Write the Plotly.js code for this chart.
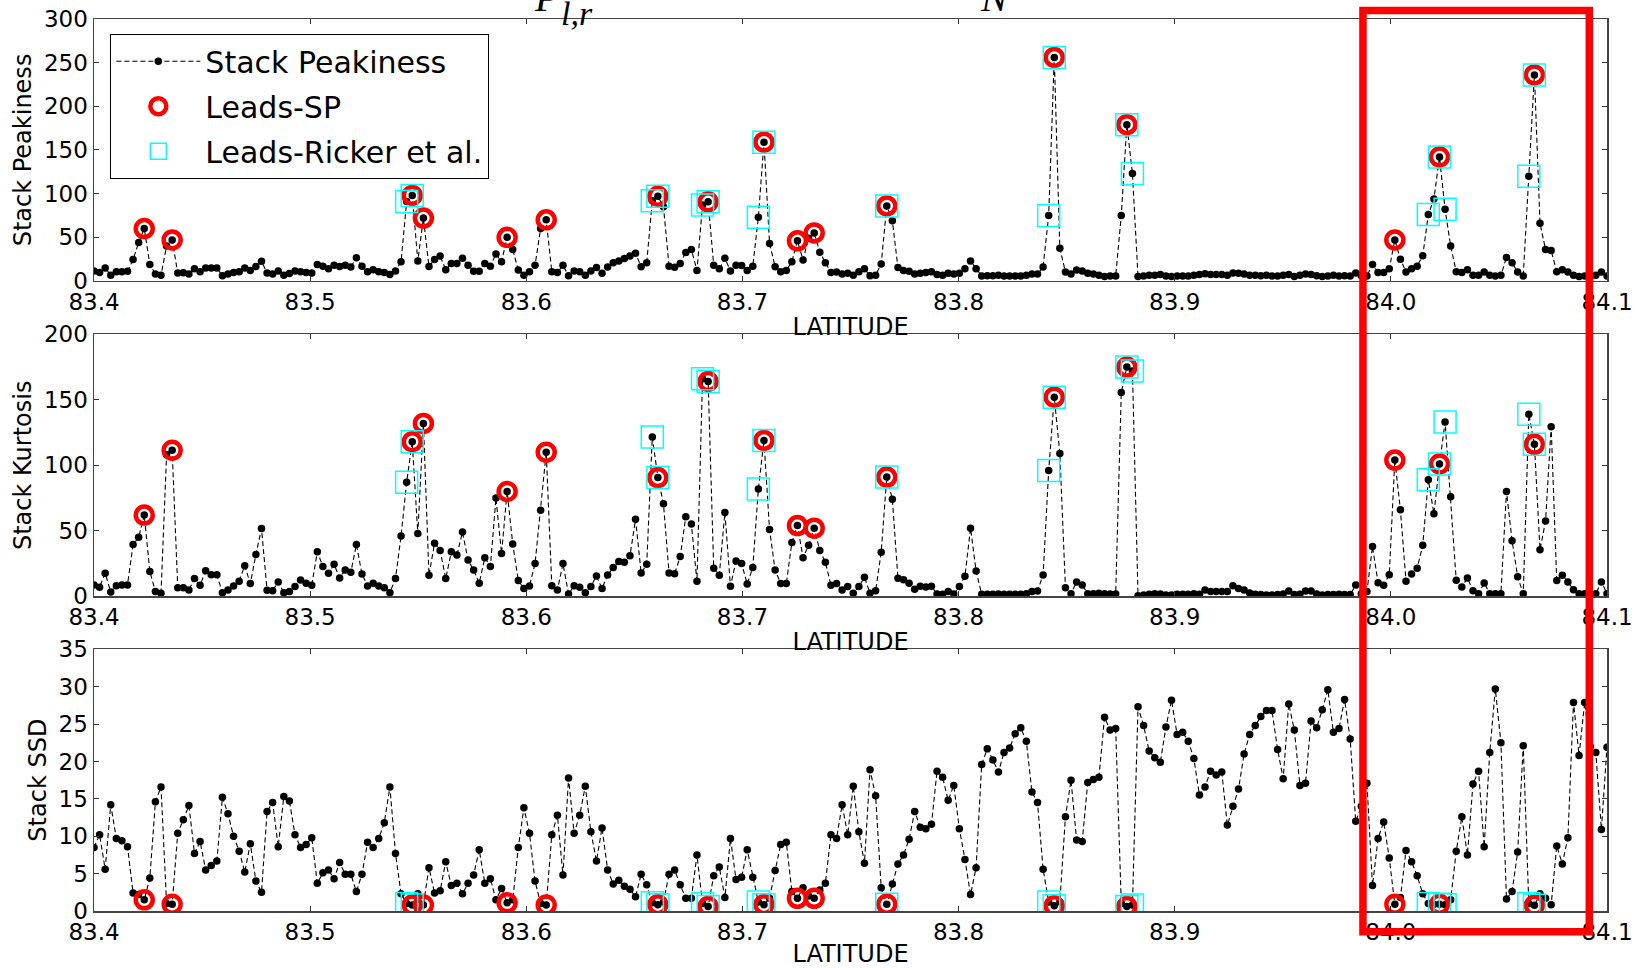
<!DOCTYPE html>
<html>
<head>
<meta charset="utf-8">
<script src="https://cdn.plot.ly/plotly-3.0.1.min.js"></script>
<style>html,body{margin:0;padding:0;background:#fff}#chart{width:1641px;height:968px}</style>
</head>
<body>
<div id="chart"></div>
<script>
// ---- sampling grid (along-track latitude) ----
const LAT_START = 83.4;
const LAT_STEP = 0.002583;

// ---- series values (one value per sample) ----
const stackPeakiness = [
 11.5, 9.6, 15, 6.5, 10.5, 10.5, 11, 24.5, 44, 60,
 19, 8, 6.5, 40, 47, 9, 9.5, 8, 14, 10.7,
 15, 15, 15, 6, 8, 9.6, 10.7, 15, 12, 16.5,
 22.5, 9, 8, 11.5, 6.5, 8.5, 11.5, 10.7, 9.6, 9,
 19, 17, 14, 18, 16.5, 18, 16, 26.5, 17, 10.7,
 13, 10.7, 9.6, 7.3, 11.5, 22, 91, 98, 23, 72,
 16.5, 24.5, 28.5, 13, 20, 20, 26, 18, 11, 11,
 20, 17, 31, 22, 50, 36, 12.6, 6.5, 10.7, 18,
 60, 70, 10.7, 9.6, 18, 6.1, 11.5, 10.7, 6.5, 11.5,
 15.3, 8.8, 16, 21, 23, 25.6, 28.7, 31.7, 16.4, 21,
 92, 97, 85, 17, 15.7, 20, 32.5, 36, 12, 87,
 90.6, 18, 14, 26, 11.5, 18, 17.6, 12, 17, 73,
 159, 43, 16.4, 10.7, 12, 22, 46, 24, 49, 55,
 33, 21, 9.6, 10.3, 8, 8.8, 6.5, 10.7, 14, 6.1,
 6.5, 19.5, 86, 69, 15.3, 12, 11, 8, 8.8, 9.6,
 10.7, 7.3, 6.5, 8.8, 8, 8.8, 14, 23, 14, 5.7,
 6, 6, 6.5, 5.7, 5.7, 5.7, 5.7, 6.5, 8, 8,
 16, 75, 256, 37.5, 10.3, 8, 12.6, 11.5, 8.8, 8,
 6.5, 5, 5.7, 5.7, 75, 179, 123, 5, 5.7, 6.5,
 6.5, 7.3, 5.7, 5, 5.7, 5.7, 5.7, 6.5, 7.3, 8.4,
 7.3, 7.3, 7.3, 6.5, 9.2, 8.8, 8, 6.5, 6.5, 6.1,
 6.5, 5.7, 5.7, 6.5, 7.3, 5, 6.5, 8, 7.3, 6.1,
 5, 5.7, 6.5, 5.7, 6.1, 5.7, 9, 6, 5.7, 19,
 9.6, 9.6, 14, 47, 25, 10.3, 14, 17, 29, 76,
 94, 142, 82, 40, 10.7, 9.6, 13, 6.5, 6.5, 10.3,
 6.5, 5.7, 6.5, 27, 21, 10.3, 5.7, 120, 236, 66,
 36, 35, 10.7, 13, 10.3, 6.5, 5, 5.7, 5, 6.5,
 10.3, 5.7
];

const stackKurtosis = [
 8.7, 7, 17.6, 3.3, 8, 8.7, 8.7, 39.5, 45, 62,
 19, 3.6, 2.3, 108, 111.5, 6.6, 6.6, 4.8, 13.5, 8.4,
 19.6, 16.5, 16.5, 2.8, 4.8, 7.9, 11.5, 23.4, 9.7, 32,
 51.7, 4.6, 4.3, 11, 2.8, 3.6, 7.4, 12.5, 10, 8.4,
 34, 22.7, 17.6, 24.4, 14, 20, 18.3, 39.5, 17, 7.9,
 10, 7.9, 6.6, 2.8, 13.5, 46, 87, 118, 48, 132,
 16, 40.5, 35, 13.5, 34, 31.5, 49, 27.7, 20, 10,
 29.5, 22.7, 75, 32.6, 80, 40, 12, 6, 7.9, 25,
 65.7, 110, 8, 4.8, 25, 1.8, 8, 6.9, 2.8, 7.4,
 15.5, 5.9, 16.3, 21.9, 26.5, 26, 31, 58.8, 17.8, 24.4,
 121.6, 90.6, 70.7, 17.8, 17.3, 30.3, 60.8, 55.2, 11.5, 166,
 164, 21.4, 16, 64, 7.6, 27, 25, 9.4, 22, 82,
 119, 51, 20, 9.7, 9.7, 41, 54, 29.5, 39, 52,
 35, 26, 8.4, 9.7, 4.8, 7.4, 2.3, 7.4, 14.5, 2.3,
 4.3, 33.6, 91, 74, 13.7, 12.7, 10, 5.3, 7.6, 7.1,
 7.6, 1.8, 1.5, 3.6, 1.8, 7.4, 15.3, 52, 19.3, 1.5,
 1.5, 1.5, 1.8, 1.5, 1.5, 1.5, 1.5, 2, 3.6, 4,
 16.3, 96, 152, 109, 6.6, 2, 11, 8.7, 2, 2,
 2.3, 2, 1.8, 1.8, 155.5, 175, 172, 0.5, 1, 1.5,
 2, 1.8, 1, 1, 1.5, 1.5, 1.5, 2, 1.5, 4.8,
 3.6, 3.6, 3.6, 3.6, 8, 6, 4.8, 2.5, 1.5, 1.3,
 1, 1, 1.3, 1.8, 4, 1.3, 1.5, 4, 4, 1.8,
 1, 1.3, 1.3, 1.5, 1.3, 1.3, 8.7, 2, 3.6, 38,
 10.4, 8.4, 16.5, 104, 66, 11.5, 17, 21.4, 39, 89,
 63, 101, 133, 76, 12.2, 7.1, 14, 4.3, 2, 10.2,
 2, 2, 2, 80, 42.5, 15, 2, 139, 116, 35.6,
 57.5, 129.5, 12, 16, 11, 5, 2, 2, 1.5, 2,
 11, 2
];

const stackSSD = [
 8.5, 10.2, 5.6, 14.2, 9.7, 9.4, 8.6, 2.4, 2.2, 1.5,
 4.4, 14.6, 16.6, 1.0, 0.9, 10.4, 12.2, 14.1, 7.7, 9.3,
 5.5, 6.1, 6.7, 15.2, 13, 10, 8, 5.2, 9, 4,
 2.5, 13.3, 14.5, 8.6, 15.3, 14.7, 10.2, 8.5, 8.9, 9.8,
 3.7, 5.1, 5.5, 4.3, 6.5, 4.9, 4.9, 2.6, 4.9, 9.2,
 8.5, 9.7, 11.8, 16.6, 7.7, 2.3, 1.0, 0.8, 2.3, 0.8,
 5.8, 2.4, 2.7, 6.6, 3.4, 3.7, 2.3, 3.7, 4.8, 8.2,
 3.7, 4.3, 1.5, 3.0, 1.1, 1.5, 8.5, 13.8, 10.4, 4.0,
 1.0, 0.8, 10.2, 12.8, 4.8, 17.8, 10.4, 12.8, 16.7, 10.6,
 6.7, 11.1, 5.5, 3.6, 4.1, 3.3, 2.9, 1.9, 4.9, 3.5,
 1.1, 0.85, 1.2, 4.9, 5.5, 3.5, 1.7, 1.7, 7.5, 1.0,
 0.6, 4.7, 5.9, 1.8, 9.7, 4.2, 4.5, 8.2, 4.5, 1.2,
 0.85, 1.7, 5.4, 8.9, 9.2, 2.6, 1.7, 3.1, 2.0, 1.7,
 2.8, 3.7, 10.2, 9.7, 14.2, 10.2, 16.7, 10.6, 6.4, 18.9,
 15.4, 3.1, 0.9, 3.6, 6.3, 7.5, 9.6, 13.3, 11.2, 11,
 11.6, 18.7, 17.9, 14.8, 16.8, 11, 6.9, 2.2, 5.8, 19.6,
 21.7, 20.2, 18.6, 21.2, 21.8, 23.7, 24.5, 22.7, 15.9, 14.5,
 5.6, 1.2, 0.7, 1.2, 12.6, 17.5, 9.5, 9.3, 17.2, 17.6,
 17.9, 25.9, 24.2, 24.4, 1.0, 0.6, 0.8, 27.3, 24.8, 21.4,
 20.5, 19.9, 24.6, 28.2, 23.6, 23.9, 22.7, 20.4, 15.5, 16.6,
 18.7, 18.2, 18.6, 11.5, 14, 16.3, 21, 23.6, 24.8, 26,
 26.8, 26.8, 21.6, 17.7, 27.7, 24.2, 16.8, 17.1, 25.4, 24.5,
 26.9, 29.6, 23.9, 24.4, 28.3, 23, 12, 14, 17.1, 3.4,
 9.7, 11.9, 7.1, 0.9, 1.8, 8.1, 6.6, 4.7, 2.3, 1.0,
 0.9, 0.9, 0.85, 1.5, 8, 12.6, 7.5, 17, 18.7, 8.6,
 21.2, 29.7, 22.5, 1.6, 2.6, 7.9, 22.1, 1.0, 0.76, 2.3,
 1.7, 0.85, 8.7, 6.3, 9.8, 27.9, 20.8, 27.9, 22, 21.2,
 10.9, 21.9
];

// ---- lead detections (sample indices) ----
const leadsSP = [9, 14, 57, 59, 74, 81, 101, 110, 120, 126, 129, 142, 172, 185, 233, 241, 258];
const leadsRicker = [56, 57, 100, 101, 109, 110, 119, 120, 142, 171, 172, 185, 186, 239, 241, 242, 257, 258];

// ---- axis labels / ticks ----
const xTickVals = [83.4, 83.5, 83.6, 83.7, 83.8, 83.9, 84.0, 84.1];
const xTickText = ['83.4', '83.5', '83.6', '83.7', '83.8', '83.9', '84.0', '84.1'];
const panelTitles = ['Stack Peakiness', 'Stack Kurtosis', 'Stack SSD'];
const panelRanges = [[0, 300], [0, 200], [0, 35]];
const panelDticks = [50, 50, 5];

const latitude = stackPeakiness.map((_, i) => LAT_START + i * LAT_STEP);
const series = [stackPeakiness, stackKurtosis, stackSSD];

const FONT = 'DejaVu Sans';
const traces = [];
series.forEach((vals, p) => {
  const sfx = p === 0 ? '' : String(p + 1);
  traces.push({
    x: latitude, y: vals, xaxis: 'x' + sfx, yaxis: 'y' + sfx,
    type: 'scatter', mode: 'lines+markers', name: 'Stack Peakiness',
    legendgroup: 'a', showlegend: p === 0,
    line: {color: '#000', width: 1.1, dash: '5px,3px'},
    marker: {color: '#000', size: 7.5}
  });
  traces.push({
    x: leadsSP.map(i => latitude[i]), y: leadsSP.map(i => vals[i]),
    xaxis: 'x' + sfx, yaxis: 'y' + sfx,
    type: 'scatter', mode: 'markers', name: 'Leads-SP',
    legendgroup: 'b', showlegend: p === 0,
    marker: {symbol: 'circle-open', color: '#ff0000', size: 17, line: {color: '#ff0000', width: 4.5}}
  });
  traces.push({
    x: leadsRicker.map(i => latitude[i]), y: leadsRicker.map(i => vals[i]),
    xaxis: 'x' + sfx, yaxis: 'y' + sfx,
    type: 'scatter', mode: 'markers', name: 'Leads-Ricker et al.',
    legendgroup: 'c', showlegend: p === 0,
    marker: {symbol: 'square-open', color: '#00ffff', size: 22, line: {color: '#00ffff', width: 1.5}}
  });
});

const domains = [[0.7063, 1.0], [0.3528, 0.6465], [0.0, 0.2934]];
const layout = {
  width: 1641, height: 968,
  margin: {l: 94, r: 34, t: 19, b: 57},
  paper_bgcolor: '#fff', plot_bgcolor: '#fff',
  font: {family: FONT, color: '#000', size: 23},
  showlegend: true,
  legend: {
    x: 0.0106, y: 0.9832, xanchor: 'left', yanchor: 'top',
    bgcolor: '#fff', bordercolor: '#000', borderwidth: 1.3,
    font: {family: FONT, size: 30, color: '#000'},
    traceorder: 'grouped', tracegroupgap: 3, itemwidth: 84
  },
  shapes: [{
    type: 'rect', xref: 'paper', yref: 'paper', layer: 'above',
    x0: 0.8387, x1: 0.9883, y0: -0.0233, y1: 1.0095,
    line: {color: '#ff0000', width: 7.5}
  }],
  annotations: [
    {text: '<i>P</i>', x: 0.2994, y: 1.0241, xref: 'paper', yref: 'paper', showarrow: false,
     xanchor: 'center', yanchor: 'middle', font: {family: 'Liberation Serif', size: 40, color: '#000'}},
    {text: '<i>l,r</i>', x: 0.3192, y: 1.0062, xref: 'paper', yref: 'paper', showarrow: false,
     xanchor: 'center', yanchor: 'middle', font: {family: 'Liberation Serif', size: 34, color: '#000'}},
    {text: '<i>N</i>', x: 0.5955, y: 1.0241, xref: 'paper', yref: 'paper', showarrow: false,
     xanchor: 'center', yanchor: 'middle', font: {family: 'Liberation Serif', size: 40, color: '#000'}}
  ]
};

for (let p = 0; p < 3; p++) {
  const sfx = p === 0 ? '' : String(p + 1);
  layout['xaxis' + sfx] = {
    anchor: 'y' + sfx, domain: [0, 1], range: [83.4, 84.1],
    tickmode: 'array', tickvals: xTickVals, ticktext: xTickText,
    ticks: 'inside', ticklen: 5, tickwidth: 1, tickcolor: '#333',
    showline: true, linecolor: '#444', linewidth: 1.5, mirror: 'ticks',
    showgrid: false, zeroline: false,
    tickfont: {family: FONT, size: 23, color: '#000'},
    title: {text: 'LATITUDE', font: {family: FONT, size: 24, color: '#000'}, standoff: 4}
  };
  layout['yaxis' + sfx] = {
    anchor: 'x' + sfx, domain: domains[p], range: panelRanges[p],
    tick0: 0, dtick: panelDticks[p],
    ticks: 'inside', ticklen: 5, tickwidth: 1, tickcolor: '#333',
    showline: true, linecolor: '#444', linewidth: 1.5, mirror: 'ticks',
    showgrid: false, zeroline: false,
    tickfont: {family: FONT, size: 23, color: '#000'},
    title: {text: panelTitles[p], font: {family: FONT, size: 24, color: '#000'}, standoff: 5}
  };
}

Plotly.newPlot('chart', traces, layout, {staticPlot: true, displayModeBar: false});
</script>
</body>
</html>
